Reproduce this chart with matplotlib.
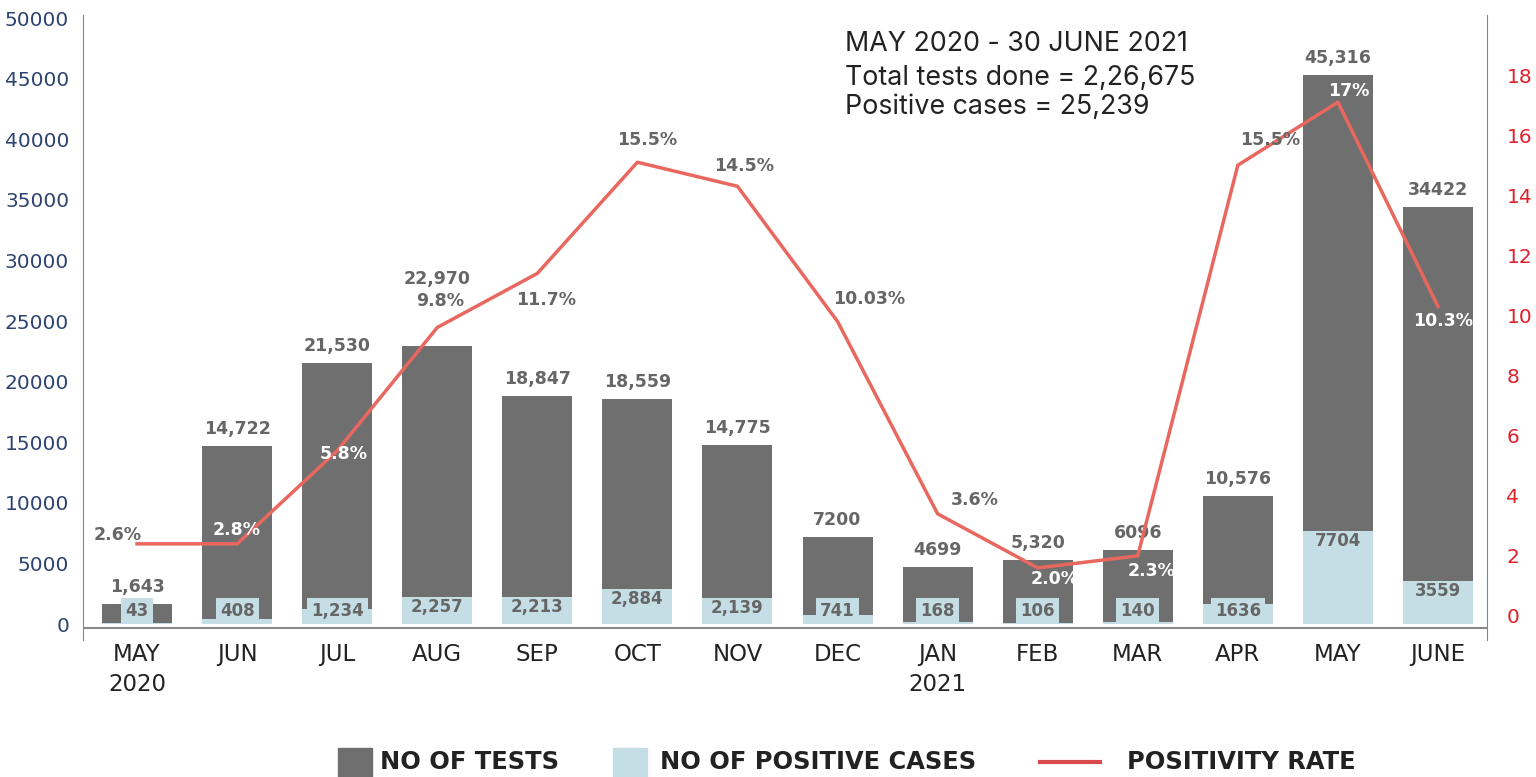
import matplotlib.pyplot as plt
from matplotlib.patches import Rectangle
from matplotlib.lines import Line2D

months = ['MAY\n2020', 'JUN', 'JUL', 'AUG', 'SEP', 'OCT', 'NOV', 'DEC',
          'JAN\n2021', 'FEB', 'MAR', 'APR', 'MAY', 'JUNE']
tests = [1643, 14722, 21530, 22970, 18847, 18559, 14775, 7200,
         4699, 5320, 6096, 10576, 45316, 34422]
test_labels = ['1,643', '14,722', '21,530', '22,970', '18,847', '18,559', '14,775',
               '7200', '4699', '5,320', '6096', '10,576', '45,316', '34422']
positives = [43, 408, 1234, 2257, 2213, 2884, 2139, 741, 168, 106, 140, 1636, 7704, 3559]
pos_labels = ['43', '408', '1,234', '2,257', '2,213', '2,884', '2,139', '741',
              '168', '106', '140', '1636', '7704', '3559']
rate = [2.4, 2.4, 5.5, 9.6, 11.4, 15.1, 14.3, 9.8, 3.4, 1.6, 2.0, 15.0, 17.1, 10.3]
rate_labels = ['2.6%', '2.8%', '5.8%', '9.8%', '11.7%', '15.5%', '14.5%', '10.03%',
               '3.6%', '2.0%', '2.3%', '15.5%', '17%', '10.3%']

# label placement (pixels from the line point) and colour
rate_offsets = [(-19, 9), (0, 14), (6, -3), (3, 26), (9, -27), (10, 22), (7, 20),
                (32, 22), (37, 14), (17, -11), (14, -15), (32, 25), (11, 11), (5, -15)]
rate_white = [False, True, True, False, False, False, False, False,
              False, True, True, False, True, True]
test_offsets = [8] * 14
test_offsets[3] = 58

DARK = '#6f6f6f'
LIGHT = '#c5dee5'
LINE = '#e8675f'
LBL = '#666666'
W, H = 1536, 777

fig = plt.figure(figsize=(15.36, 7.77), dpi=100)
ax = fig.add_axes([83 / W, 1 - 640 / H, (1487 - 83) / W, 625 / H])
ax2 = ax.twinx()

x = list(range(len(months)))
ax.bar(x, tests, width=0.7, color=DARK, zorder=2)
ax.bar(x, positives, width=0.7, color=LIGHT, zorder=3)
ax.axhline(-300, color='#888888', lw=1.5, zorder=4)

for i in x:
    ax.annotate(test_labels[i], (i, tests[i]), xytext=(0, test_offsets[i]),
                textcoords='offset pixels', ha='center', va='bottom',
                fontsize=12.5, fontweight='bold', color=LBL, zorder=6)
    box = dict(boxstyle='square,pad=0.25', fc=LIGHT, ec='none') if positives[i] < 2000 else None
    ax.text(i, max(positives[i] - 850, 1100), pos_labels[i], ha='center', va='center',
            fontsize=12, fontweight='bold', color=LBL, zorder=6, bbox=box)

ax.set_xlim(-0.54, 13.49)
ax.set_ylim(-1320, 50250)
ax.set_yticks(range(0, 50001, 5000))
ax.set_xticks(x)
ax.set_xticklabels(months, fontsize=16.5, color='#222222', linespacing=1.4)
ax.tick_params(axis='y', length=0, pad=10, labelsize=14.5, labelcolor='#2e4470')
ax.tick_params(axis='x', length=0, pad=2)

ax2.plot(x, rate, color=LINE, lw=2.5, zorder=5)
ax2.set_ylim(-0.8, 20)
ax2.set_yticks(range(0, 19, 2))
ax2.tick_params(axis='y', length=0, pad=14, labelsize=14.5, labelcolor='#e0202a')
for i in x:
    ax2.annotate(rate_labels[i], (i, rate[i]), xytext=rate_offsets[i],
                 textcoords='offset pixels', ha='center', va='center',
                 fontsize=12.5, fontweight='bold',
                 color='white' if rate_white[i] else LBL, zorder=7)

for a in (ax, ax2):
    for side in ('top', 'bottom', 'left', 'right'):
        a.spines[side].set_visible(False)
ax.spines['left'].set_visible(True)
ax.spines['left'].set_color('#888888')
ax2.spines['right'].set_visible(True)
ax2.spines['right'].set_color('#5b8bc9')

for y, s in [(44, 'MAY 2020 - 30 JUNE 2021'), (78, 'Total tests done = 2,26,675'),
             (107, 'Positive cases = 25,239')]:
    fig.text(845 / W, 1 - y / H, s, fontsize=19.3, family='Inter', color='#222222', va='center')

# legend drawn by hand to match the spacing of the original
ly = 1 - 762 / H
fig.add_artist(Rectangle((338 / W, 1 - 777 / H), 34 / W, 29 / H, color=DARK,
                         transform=fig.transFigure))
fig.add_artist(Rectangle((613 / W, 1 - 777 / H), 34 / W, 29 / H, color=LIGHT,
                         transform=fig.transFigure))
fig.add_artist(Line2D([1040 / W, 1100 / W], [ly, ly], color='#d94a4f', lw=3,
                      transform=fig.transFigure))
for px, s in [(380, 'NO OF TESTS'), (660, 'NO OF POSITIVE CASES'), (1127, 'POSITIVITY RATE')]:
    fig.text(px / W, ly, s, fontsize=17.4, fontweight='bold', color='#222222', va='center')

fig.savefig('out.png', dpi=100)
